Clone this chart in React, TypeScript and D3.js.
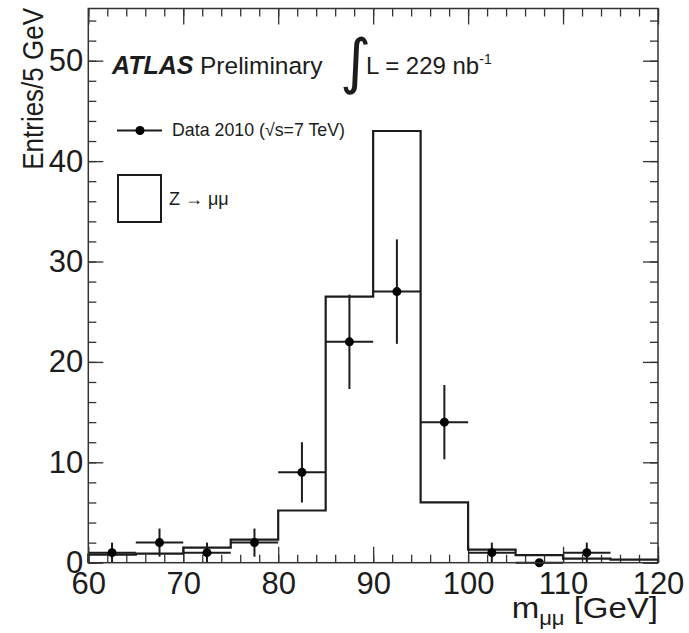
import React, { useEffect, useRef } from 'react';
import * as d3 from 'd3';

// bin lower edges (GeV), 5 GeV bins
const binLow = [60, 65, 70, 75, 80, 85, 90, 95, 100, 105, 110, 115];
const binWidth = 5;
// Z -> mumu expectation (open histogram)
const mcZmumu = [0.8, 0.9, 1.5, 2.3, 5.2, 26.5, 43.0, 6.0, 1.3, 0.75, 0.4, 0.3];
// Data 2010 entries and their vertical errors
const data2010 = [1, 2, 1, 2, 9, 22, 27, 14, 1, 0, 1, null];
const dataErr = [1.0, 1.4, 1.0, 1.4, 3.0, 4.7, 5.2, 3.7, 1.0, 0, 1.0, 0];
const xTicks = [60, 70, 80, 90, 100, 110, 120];
const yTicks = [0, 10, 20, 30, 40, 50];

const W = 689;
const H = 633;
const margin = { top: 8.5, right: 31, bottom: 70.3, left: 88.3 };
const FONT = '"Liberation Sans", Arial, Helvetica, sans-serif';
const INK = '#1c1c1c';

const ZPlot: React.FC = () => {
  const svgRef = useRef<SVGSVGElement>(null);

  useEffect(() => {
    if (!svgRef.current) return;
    const svg = d3.select(svgRef.current);
    svg.selectAll('*').remove();

    const innerW = W - margin.left - margin.right;
    const innerH = H - margin.top - margin.bottom;

    const x = d3.scaleLinear().domain([60, 120]).range([0, innerW]);
    const y = d3.scaleLinear().domain([0, 55.2]).range([innerH, 0]);

    svg.append('rect').attr('width', W).attr('height', H).attr('fill', '#fff');

    const g = svg.append('g')
      .attr('transform', `translate(${margin.left},${margin.top})`);

    // ticks on all four sides, pointing inward
    const minorX = x.ticks(30);
    const minorY = y.ticks(27);

    const tickAxis = (axis: any, horizontal: boolean, at: string, major: number[], minor: number[], size: number, minSize: number) => {
      const sc = horizontal ? x : y;
      [[minor, minSize], [major, size]].forEach(([vals, len]: any) => {
        g.append('g')
          .attr('transform', at)
          .call(axis(sc).tickValues(vals).tickSizeInner(-len).tickSizeOuter(0).tickFormat(() => ''))
          .call((s: any) => s.select('.domain').remove())
          .selectAll('line').attr('stroke', '#333').attr('stroke-width', 1.3);
      });
    };

    tickAxis(d3.axisBottom, true, `translate(0,${innerH})`, xTicks, minorX, 16, 8);
    tickAxis(d3.axisTop, true, 'translate(0,0)', xTicks, minorX, 16, 8);
    tickAxis(d3.axisLeft, false, 'translate(0,0)', yTicks, minorY, 15, 8);
    tickAxis(d3.axisRight, false, `translate(${innerW},0)`, yTicks, minorY, 15, 8);

    // tick labels
    const xl = g.append('g')
      .attr('transform', `translate(0,${innerH})`)
      .call(d3.axisBottom(x).tickValues(xTicks).tickSize(0).tickPadding(9));
    xl.select('.domain').remove();
    xl.selectAll('text')
      .attr('font-family', FONT).attr('font-size', 31).attr('fill', INK);

    const yl = g.append('g')
      .call(d3.axisLeft(y).tickValues(yTicks).tickSize(0).tickPadding(5));
    yl.select('.domain').remove();
    yl.selectAll('text')
      .attr('font-family', FONT).attr('font-size', 31).attr('fill', INK);

    // Z -> mumu histogram outline
    const pts: [number, number][] = [[binLow[0], 0]];
    binLow.forEach((lo, i) => {
      pts.push([lo, mcZmumu[i]]);
      pts.push([lo + binWidth, mcZmumu[i]]);
    });
    pts.push([binLow[binLow.length - 1] + binWidth, 0]);

    g.append('path')
      .attr('d', d3.line().x(d => x(d[0])).y(d => y(d[1]))(pts))
      .attr('fill', 'none')
      .attr('stroke', INK)
      .attr('stroke-width', 2.2);

    // data points with error bars
    const pointData = binLow
      .map((lo, i) => ({ lo, v: data2010[i], e: dataErr[i] }))
      .filter(d => d.v !== null) as { lo: number; v: number; e: number }[];

    const pg = g.append('g');
    pg.selectAll('.xerr')
      .data(pointData)
      .enter()
      .append('line')
      .attr('x1', d => x(d.lo))
      .attr('x2', d => x(d.lo + binWidth))
      .attr('y1', d => y(d.v))
      .attr('y2', d => y(d.v))
      .attr('stroke', INK)
      .attr('stroke-width', 2);
    pg.selectAll('.yerr')
      .data(pointData.filter(d => d.e > 0))
      .enter()
      .append('line')
      .attr('x1', d => x(d.lo + binWidth / 2))
      .attr('x2', d => x(d.lo + binWidth / 2))
      .attr('y1', d => y(d.v - d.e))
      .attr('y2', d => y(d.v + d.e))
      .attr('stroke', INK)
      .attr('stroke-width', 2);
    pg.selectAll('circle')
      .data(pointData)
      .enter()
      .append('circle')
      .attr('cx', d => x(d.lo + binWidth / 2))
      .attr('cy', d => y(d.v))
      .attr('r', 4.5)
      .attr('fill', '#000');

    // frame
    g.append('rect')
      .attr('width', innerW)
      .attr('height', innerH)
      .attr('fill', 'none')
      .attr('stroke', '#333')
      .attr('stroke-width', 1.5);

    // ATLAS label
    svg.append('text')
      .attr('x', 112)
      .attr('y', 73.5)
      .attr('font-family', FONT)
      .attr('font-size', 25)
      .attr('font-weight', 'bold')
      .attr('font-style', 'italic')
      .attr('fill', INK)
      .text('ATLAS');
    svg.append('text')
      .attr('x', 200)
      .attr('y', 73.5)
      .attr('font-family', FONT)
      .attr('font-size', 24.5)
      .attr('fill', INK)
      .text('Preliminary');

    svg.append('text')
      .attr('x', 340)
      .attr('y', 82)
      .attr('font-family', '"DejaVu Sans", sans-serif')
      .attr('font-size', 60)
      .attr('fill', INK)
      .text('∫');

    const lum = svg.append('text')
      .attr('x', 366)
      .attr('y', 73.5)
      .attr('font-family', FONT)
      .attr('font-size', 24)
      .attr('fill', INK);
    lum.append('tspan').text('L = 229 nb');
    lum.append('tspan').attr('font-size', 14).attr('dy', -10).text('-1');

    // legend
    svg.append('line')
      .attr('x1', 117).attr('x2', 162).attr('y1', 130.5).attr('y2', 130.5)
      .attr('stroke', INK).attr('stroke-width', 2);
    svg.append('circle')
      .attr('cx', 140).attr('cy', 130.5).attr('r', 4.5).attr('fill', '#000');
    svg.append('text')
      .attr('x', 172).attr('y', 136)
      .attr('font-family', FONT).attr('font-size', 17.8).attr('fill', INK)
      .text('Data 2010 (√s=7 TeV)');

    svg.append('rect')
      .attr('x', 118).attr('y', 175).attr('width', 43).attr('height', 47)
      .attr('fill', 'none').attr('stroke', INK).attr('stroke-width', 2);
    svg.append('text')
      .attr('x', 169).attr('y', 205)
      .attr('font-family', FONT).attr('font-size', 18).attr('fill', INK)
      .text('Z → μμ');

    // axis titles
    svg.append('text')
      .attr('transform', 'translate(43,8) scale(1.15,1) rotate(-90)')
      .attr('text-anchor', 'end')
      .attr('font-family', FONT)
      .attr('font-size', 26)
      .attr('fill', INK)
      .text('Entries/5 GeV');

    const xt = svg.append('text')
      .attr('transform', 'translate(658,618) scale(1.1,1)')
      .attr('text-anchor', 'end')
      .attr('font-family', FONT)
      .attr('font-size', 30)
      .attr('fill', INK);
    xt.append('tspan').text('m');
    xt.append('tspan').attr('font-size', 20).attr('dy', 7).text('μμ');
    xt.append('tspan').attr('dy', -7).text(' [GeV]');
  }, []);

  return <svg ref={svgRef} width={W} height={H} style={{ display: 'block' }}></svg>;
};

export default function App() {
  return (
    <div style={{ position: 'absolute', left: 0, top: 0 }}>
      <ZPlot />
    </div>
  );
}
